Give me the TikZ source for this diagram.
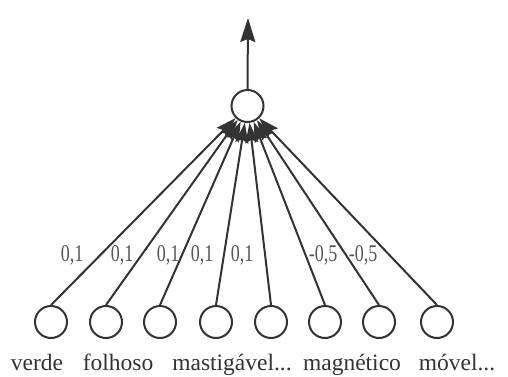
\documentclass[tikz,border=0pt]{standalone}
\usepackage{fontspec}
\setmainfont{Liberation Serif}
\usetikzlibrary{arrows.meta}
\definecolor{ink}{HTML}{333333}
\definecolor{wink}{HTML}{555555}
\tikzset{
  unit/.style={circle, draw=ink, line width=2pt, minimum size=32pt, inner sep=0pt},
  conn/.style={draw=ink, line width=2pt, -{Stealth[length=20pt,width=13pt,inset=3pt]}},
  outarr/.style={draw=ink, line width=2pt, -{Stealth[length=24pt,width=15pt,inset=3pt]}},
  word/.style={text=ink, font=\fontsize{23.5}{27}\selectfont, anchor=base, inner sep=0pt},
  weight/.style={text=wink, font=\fontsize{24}{26}\selectfont, inner sep=0pt}
}
\begin{document}
\begin{tikzpicture}[x=1pt,y=-1pt]
\useasboundingbox (0,0) rectangle (508,376);
\node[unit] (out) at (247.5,106) {};
\coordinate (tip) at (248,18);
\draw[outarr] (out.north) -- (tip);
\foreach \i/\x in {1/51,2/106,3/160,4/216,5/271,6/325,7/379,8/437}{
  \node[unit] (b\i) at (\x,322) {};
}
\foreach \i in {1,...,8}{
  \draw[conn] (b\i.north) -- (out);
}
\node[weight] (w1) at (72,255) {\scalebox{0.75}[1]{0,1}};
\node[weight] (w2) at (122,255) {\scalebox{0.75}[1]{0,1}};
\node[weight] (w3) at (168,255) {\scalebox{0.75}[1]{0,1}};
\node[weight] (w4) at (202,255) {\scalebox{0.75}[1]{0,1}};
\node[weight] (w5) at (242,255) {\scalebox{0.75}[1]{0,1}};
\node[weight] (w6) at (323,255) {\scalebox{0.75}[1]{-0,5}};
\node[weight] (w7) at (363,255) {\scalebox{0.75}[1]{-0,5}};
\node[word] (l1) at (37,370) {verde};
\node[word] (l2) at (118,370) {folhoso};
\node[word] (l3) at (232,370) {mastigável...};
\node[word] (l4) at (352,370) {magnético};
\node[word] (l5) at (457,370) {móvel...};
\end{tikzpicture}
\end{document}
